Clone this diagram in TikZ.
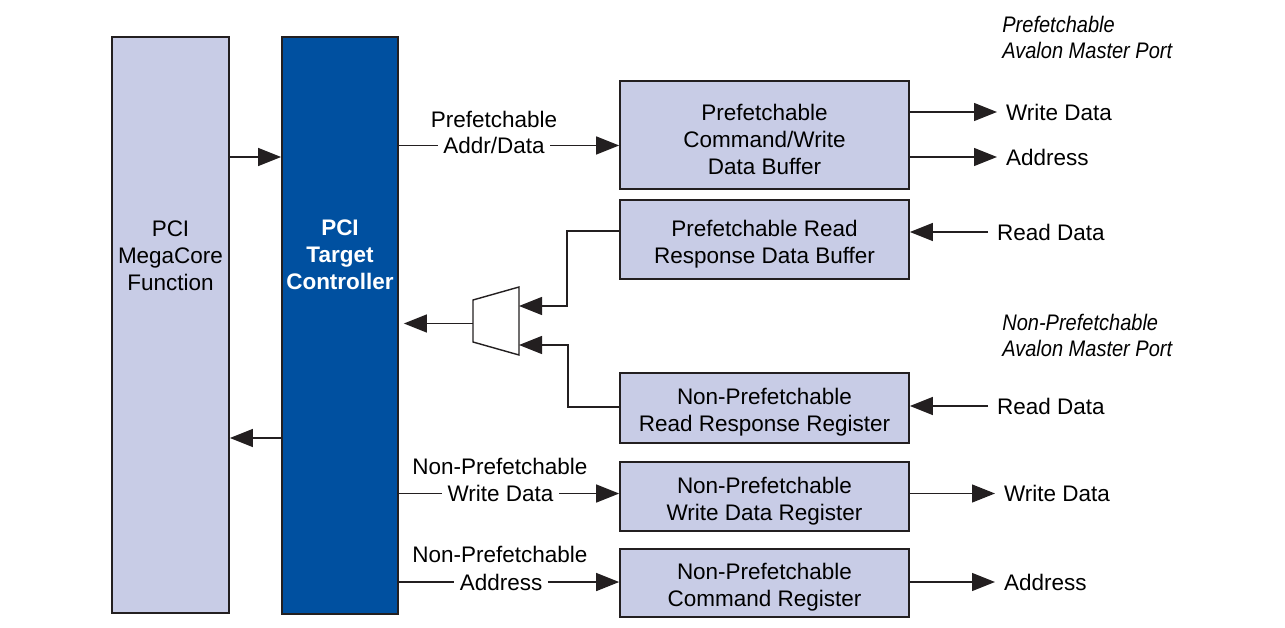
\documentclass[tikz,border=0pt]{standalone}
\usepackage{fontspec}
\setmainfont{Liberation Sans}
\newfontfamily\portfont[FakeStretch=0.89]{Liberation Sans Italic}
\usetikzlibrary{arrows.meta,positioning}
\definecolor{boxfill}{RGB}{200,204,230}
\definecolor{ctrlblue}{RGB}{0,80,160}
\definecolor{linegray}{RGB}{35,31,32}
\newcommand{\boxstrut}{\rule{0pt}{0.5cm}}

\begin{document}
\begin{tikzpicture}[
  x=0.02cm, y=-0.02cm,
  font=\fontsize{12.8}{15.4}\selectfont,
  box/.style={rectangle, draw=linegray, line width=1pt, fill=boxfill, minimum width=5.78cm, align=center},
  tall/.style={rectangle, draw=linegray, line width=1pt, minimum width=2.34cm, minimum height=11.52cm},
  txt/.style={align=center, inner sep=0pt},
  wire/.style={draw=linegray, line width=0.8pt},
  arr/.style={wire, -{Triangle[length=0.46cm, width=0.36cm]}},
  onwire/.style={fill=white, inner sep=3pt},
  port/.style={anchor=west, inner sep=5pt},
  portnote/.style={anchor=west, inner sep=0pt, align=left, font=\portfont\fontsize{12.8}{14.8}\selectfont},
]
  \useasboundingbox (0,0) rectangle (1285,628);

  \node[tall, fill=boxfill] (mega) at (170.5,325) {};
  \node[txt] (megatext) at (170.5,256) {PCI\\MegaCore\\Function};
  \node[tall, fill=ctrlblue, minimum width=2.32cm, minimum height=11.54cm] (ctrl) at (340,325.5) {};
  \node[txt, text=white, font=\fontsize{12.8}{15.4}\selectfont\bfseries] (ctrltext) at (340,255) {PCI\\Target\\Controller};

  \node[box, minimum height=2.16cm] (pfwbuf) at (764.5,135) {\boxstrut Prefetchable\\Command/Write\\Data Buffer};
  \node[box, minimum height=1.58cm] (pfrbuf) at (764.5,239.5) {\boxstrut Prefetchable Read\\Response Data Buffer};
  \node[box, minimum height=1.40cm] (nprreg) at (764.5,408) {\boxstrut Non-Prefetchable\\Read Response Register};
  \node[box, minimum height=1.38cm] (npwreg) at (764.5,496.5) {\boxstrut Non-Prefetchable\\Write Data Register};
  \node[box, minimum height=1.36cm] (npcreg) at (764.5,583) {\boxstrut Non-Prefetchable\\Command Register};

  \node[portnote] (pfport) at (1002,37) {Prefetchable\\Avalon Master Port};
  \node[portnote] (npport) at (1002,335.5) {Non-Prefetchable\\Avalon Master Port};

  \node[onwire] (pfaddr) at (494,145.5) {Addr/Data};
  \node[txt] (pfpre) at (494,119) {Prefetchable};
  \node[onwire] (npwdat) at (500.5,493.5) {Write Data};
  \node[txt] (npwpre) at (500,466) {Non-Prefetchable};
  \node[onwire] (npadr) at (501,582) {Address};
  \node[txt] (npapre) at (500,554) {Non-Prefetchable};

  \node[port] (pfwout) at (997,112) {Write Data};
  \node[port] (pfaout) at (997,157) {Address};
  \node[port] (pfrin) at (988,232) {Read Data};
  \node[port] (nprin) at (988,406) {Read Data};
  \node[port] (npwout) at (995,493.5) {Write Data};
  \node[port] (npaout) at (995,582) {Address};

  \draw[wire, fill=white] (473,300) -- (519,287) -- (519,355) -- (473,342) -- cycle;
  \coordinate (muxout) at (473,323.5);
  \coordinate (muxa) at (519,306);
  \coordinate (muxb) at (519,345);

  \draw[arr] (mega.east |- 0,157) -- (ctrl.west |- 0,157);
  \draw[arr] (ctrl.west |- 0,438) -- (mega.east |- 0,438);

  \draw[wire] (ctrl.east |- pfaddr) -- (pfaddr);
  \draw[arr] (pfaddr) -- (pfwbuf.west |- pfaddr);
  \draw[wire] (ctrl.east |- npwdat) -- (npwdat);
  \draw[arr] (npwdat) -- (npwreg.west |- npwdat);
  \draw[wire] (ctrl.east |- npadr) -- (npadr);
  \draw[arr] (npadr) -- (npcreg.west |- npadr);

  \draw[arr] (pfrbuf.west |- 0,231) -| (567,306) -- (muxa);
  \draw[arr] (nprreg.west |- 0,407) -| (568,345) -- (muxb);
  \draw[arr, shorten >=0.1cm] (muxout) -- (ctrl.east |- muxout);

  \draw[arr] (pfwbuf.east |- pfwout) -- (pfwout);
  \draw[arr] (pfwbuf.east |- pfaout) -- (pfaout);
  \draw[arr] (pfrin) -- (pfrbuf.east |- pfrin);
  \draw[arr] (nprin) -- (nprreg.east |- nprin);
  \draw[arr] (npwreg.east |- npwout) -- (npwout);
  \draw[arr] (npcreg.east |- npaout) -- (npaout);
\end{tikzpicture}
\end{document}
